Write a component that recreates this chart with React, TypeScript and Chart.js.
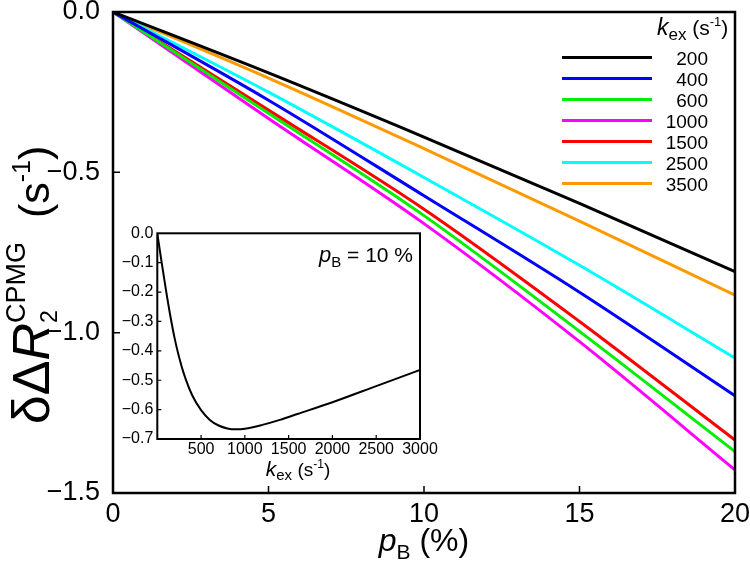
import { useEffect, useRef } from 'react';
import { Chart, registerables } from 'chart.js';

Chart.register(...registerables);

const FONT = '"Liberation Sans", Arial, Helvetica, sans-serif';

// ---- Main chart data ----
const pB = [0, 5, 10, 15, 20];
const kexLabels = ['200', '400', '600', '1000', '1500', '2500', '3500'];
const seriesColors = ['#000000', '#0000ff', '#00ee00', '#ff00ff', '#ff0000', '#00ffff', '#ff9900'];
const k200 = [0, -0.19, -0.39, -0.597, -0.81];
const k400 = [0, -0.275, -0.573, -0.874, -1.197];
const k600 = [0, -0.316, -0.635, -0.996, -1.371];
const k1000 = [0, -0.332, -0.66, -1.028, -1.428];
const k1500 = [0, -0.306, -0.615, -0.965, -1.335];
const k2500 = [0, -0.25, -0.516, -0.79, -1.079];
const k3500 = [0, -0.206, -0.426, -0.652, -0.883];
const mainSeries = [k200, k400, k600, k1000, k1500, k2500, k3500];
const mainXTicks = [0, 5, 10, 15, 20];
const mainYTicks = [0, -0.5, -1.0, -1.5];

// ---- Inset data (pB = 10 %) ----
const insetK = [0, 50, 100, 150, 200, 250, 300, 400, 500, 600, 700, 800, 900, 1000, 1200, 1400, 1600, 2000, 2500, 3000];
const insetVal = [0, -0.1, -0.195, -0.283, -0.36, -0.423, -0.475, -0.552, -0.602, -0.635, -0.654, -0.664, -0.667, -0.665, -0.652, -0.635, -0.615, -0.575, -0.52, -0.465];
const insetXTicks = [0, 500, 1000, 1500, 2000, 2500, 3000];
const insetYTicks = [0, -0.1, -0.2, -0.3, -0.4, -0.5, -0.6, -0.7];

type Seg = { t: string; font: string; dy?: number; noAdv?: boolean };

function richWidth(ctx: CanvasRenderingContext2D, segs: Seg[]) {
  let w = 0;
  for (const s of segs) {
    if (s.noAdv) continue;
    ctx.font = s.font;
    w += ctx.measureText(s.t).width;
  }
  return w;
}

function drawRich(ctx: CanvasRenderingContext2D, segs: Seg[], x: number, y: number, align: 'left' | 'center' | 'right') {
  const w = richWidth(ctx, segs);
  let cx = align === 'left' ? x : align === 'center' ? x - w / 2 : x - w;
  ctx.textAlign = 'left';
  ctx.textBaseline = 'alphabetic';
  ctx.fillStyle = '#000';
  for (const s of segs) {
    ctx.font = s.font;
    ctx.fillText(s.t, cx, y + (s.dy || 0));
    if (!s.noAdv) cx += ctx.measureText(s.t).width;
  }
}

const fmt = (v: number) => (Math.abs(v) < 1e-9 ? '0.0' : v.toFixed(1).replace('-', '\u2212'));

const mainDecor = {
  id: 'mainDecor',
  afterDatasetsDraw(chart: any) {
    const { ctx, chartArea: a, scales } = chart;
    ctx.save();
    ctx.strokeStyle = '#000';
    ctx.lineWidth = 2.5;
    ctx.strokeRect(a.left, a.top, a.right - a.left, a.bottom - a.top);
    ctx.lineWidth = 1.5;
    ctx.beginPath();
    for (const v of mainXTicks.slice(1, -1)) {
      const x = scales.x.getPixelForValue(v);
      ctx.moveTo(x, a.bottom);
      ctx.lineTo(x, a.bottom - 7);
    }
    for (const v of mainYTicks.slice(1, -1)) {
      const y = scales.y.getPixelForValue(v);
      ctx.moveTo(a.left, y);
      ctx.lineTo(a.left + 7, y);
    }
    ctx.stroke();

    // x axis title
    drawRich(ctx, [
      { t: 'p', font: `italic 32px ${FONT}` },
      { t: 'B', font: `21px ${FONT}`, dy: 8 },
      { t: ' (%)', font: `32px ${FONT}` },
    ], (a.left + a.right) / 2, 551, 'center');

    // y axis title (rotated)
    ctx.save();
    ctx.translate(49, 285);
    ctx.rotate(-Math.PI / 2);
    drawRich(ctx, [
      { t: '\u03b4\u0394', font: `52px ${FONT}` },
      { t: 'R', font: `italic 52px ${FONT}` },
      { t: '2', font: `23px ${FONT}`, dy: 8, noAdv: true },
      { t: 'CPMG', font: `27px ${FONT}`, dy: -24 },
      { t: '  (s', font: `43px ${FONT}` },
      { t: '-1', font: `25px ${FONT}`, dy: -19 },
      { t: ')', font: `43px ${FONT}` },
    ], 0, 0, 'center');
    ctx.restore();

    // legend
    drawRich(ctx, [
      { t: 'k', font: `italic 23px ${FONT}` },
      { t: 'ex', font: `17px ${FONT}`, dy: 5 },
      { t: ' (s', font: `21px ${FONT}` },
      { t: '-1', font: `13px ${FONT}`, dy: -9 },
      { t: ')', font: `21px ${FONT}` },
    ], 657, 35, 'left');
    for (let i = 0; i < kexLabels.length; i++) {
      const y = 57.5 + 21 * i;
      ctx.strokeStyle = seriesColors[i];
      ctx.lineWidth = 3;
      ctx.beginPath();
      ctx.moveTo(562, y);
      ctx.lineTo(652, y);
      ctx.stroke();
      ctx.fillStyle = '#000';
      ctx.font = `19px ${FONT}`;
      ctx.textAlign = 'right';
      ctx.textBaseline = 'alphabetic';
      ctx.fillText(kexLabels[i], 708, y + 7);
    }
    ctx.restore();
  },
};

const insetDecor = {
  id: 'insetDecor',
  beforeDraw(chart: any) {
    const { ctx, chartArea: a } = chart;
    ctx.save();
    ctx.fillStyle = '#fff';
    ctx.fillRect(a.left, a.top, a.right - a.left, a.bottom - a.top);
    ctx.restore();
  },
  afterDatasetsDraw(chart: any) {
    const { ctx, chartArea: a, scales } = chart;
    ctx.save();
    ctx.strokeStyle = '#000';
    ctx.lineWidth = 2;
    ctx.strokeRect(a.left, a.top, a.right - a.left, a.bottom - a.top);
    ctx.lineWidth = 1.2;
    ctx.beginPath();
    for (const v of insetXTicks.slice(1, -1)) {
      const x = scales.x.getPixelForValue(v);
      ctx.moveTo(x, a.bottom);
      ctx.lineTo(x, a.bottom - 4);
    }
    for (const v of insetYTicks.slice(1, -1)) {
      const y = scales.y.getPixelForValue(v);
      ctx.moveTo(a.left, y);
      ctx.lineTo(a.left + 4, y);
    }
    ctx.stroke();
    drawRich(ctx, [
      { t: 'p', font: `italic 22px ${FONT}` },
      { t: 'B', font: `15px ${FONT}`, dy: 5 },
      { t: ' = 10 %', font: `21px ${FONT}` },
    ], a.right - 7, 40, 'right');
    drawRich(ctx, [
      { t: 'k', font: `italic 21px ${FONT}` },
      { t: 'ex', font: `15px ${FONT}`, dy: 4 },
      { t: ' (s', font: `19px ${FONT}` },
      { t: '-1', font: `12px ${FONT}`, dy: -8 },
      { t: ')', font: `19px ${FONT}` },
    ], 198, 254, 'center');
    ctx.restore();
  },
};

function fixPad(scale: any) {
  scale.paddingTop = 0;
  scale.paddingBottom = 0;
  scale.paddingLeft = 0;
  scale.paddingRight = 0;
}

export default function App() {
  const mainRef = useRef<HTMLCanvasElement>(null);
  const insetRef = useRef<HTMLCanvasElement>(null);

  useEffect(() => {
    const main = new Chart(mainRef.current!, {
      type: 'line',
      data: {
        datasets: mainSeries.map((s, i) => ({
          label: kexLabels[i],
          data: s.map((v, j) => ({ x: pB[j], y: v })),
          borderColor: seriesColors[i],
          backgroundColor: seriesColors[i],
          borderWidth: 3,
          pointRadius: 0,
          fill: false,
          cubicInterpolationMode: 'monotone' as const,
        })),
      },
      options: {
        responsive: false,
        animation: false,
        layout: { padding: { left: 0, top: 12, right: 15, bottom: 0 } },
        plugins: { legend: { display: false }, tooltip: { enabled: false } },
        scales: {
          x: {
            type: 'linear',
            min: 0,
            max: 20,
            afterFit: (s: any) => { s.height = 78; fixPad(s); },
            afterBuildTicks: (s: any) => { s.ticks = mainXTicks.map((v) => ({ value: v })); },
            ticks: { color: '#000', padding: 5, font: { family: FONT, size: 27 }, callback: (v: any) => String(v) },
            grid: { display: false, drawTicks: false },
            border: { display: false },
          },
          y: {
            type: 'linear',
            min: -1.5,
            max: 0,
            afterFit: (s: any) => { s.width = 113; fixPad(s); },
            afterBuildTicks: (s: any) => { s.ticks = mainYTicks.map((v) => ({ value: v })); },
            ticks: { color: '#000', padding: 13, font: { family: FONT, size: 27 }, callback: (v: any) => fmt(Number(v)) },
            grid: { display: false, drawTicks: false },
            border: { display: false },
          },
        },
      },
      plugins: [mainDecor],
    });

    const inset = new Chart(insetRef.current!, {
      type: 'line',
      data: {
        datasets: [{
          label: 'pB = 10 %',
          data: insetK.map((k, j) => ({ x: k, y: insetVal[j] })),
          borderColor: '#000',
          borderWidth: 2,
          pointRadius: 0,
          fill: false,
          cubicInterpolationMode: 'monotone' as const,
        }],
      },
      options: {
        responsive: false,
        animation: false,
        layout: { padding: { left: 0, top: 11.3, right: 20, bottom: 0 } },
        plugins: { legend: { display: false }, tooltip: { enabled: false } },
        scales: {
          x: {
            type: 'linear',
            min: 0,
            max: 3000,
            afterFit: (s: any) => { s.height = 48; fixPad(s); },
            afterBuildTicks: (s: any) => { s.ticks = insetXTicks.map((v) => ({ value: v })); },
            ticks: { color: '#000', padding: 1, font: { family: FONT, size: 16 }, callback: (v: any) => (Number(v) === 0 ? '' : String(v)) },
            grid: { display: false, drawTicks: false },
            border: { display: false },
          },
          y: {
            type: 'linear',
            min: -0.7,
            max: 0,
            afterFit: (s: any) => { s.width = 57.3; fixPad(s); },
            afterBuildTicks: (s: any) => { s.ticks = insetYTicks.map((v) => ({ value: v })); },
            ticks: { color: '#000', padding: 4, font: { family: FONT, size: 16 }, callback: (v: any) => fmt(Number(v)) },
            grid: { display: false, drawTicks: false },
            border: { display: false },
          },
        },
      },
      plugins: [insetDecor],
    });

    return () => {
      main.destroy();
      inset.destroy();
    };
  }, []);

  return (
    <div style={{ position: 'absolute', left: 0, top: 0, width: 750, height: 571, background: '#fff' }}>
      <canvas ref={mainRef} width={750} height={571} style={{ position: 'absolute', left: 0, top: 0 }} />
      <canvas ref={insetRef} width={340} height={265} style={{ position: 'absolute', left: 100, top: 222 }} />
    </div>
  );
}
